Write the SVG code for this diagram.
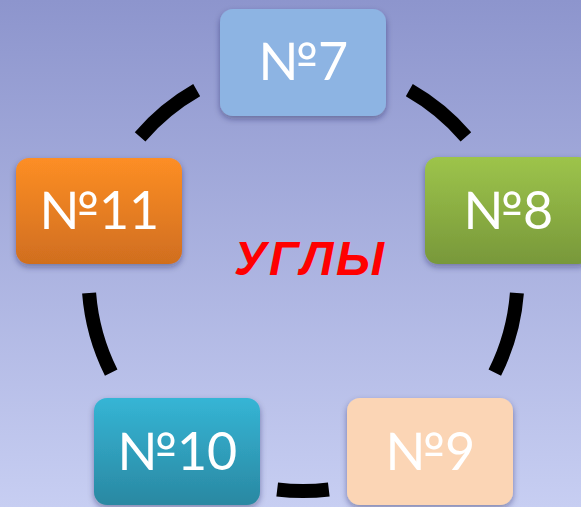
<svg xmlns="http://www.w3.org/2000/svg" width="581" height="507" viewBox="0 0 581 507">
  <defs>
    <linearGradient id="bg" x1="0" y1="0" x2="0" y2="1">
      <stop offset="0" stop-color="#8d95cd"/>
      <stop offset="1" stop-color="#c7cef2"/>
    </linearGradient>
    <linearGradient id="gGreen" x1="0" y1="0" x2="0" y2="1">
      <stop offset="0" stop-color="#9dc44b"/>
      <stop offset="1" stop-color="#78983a"/>
    </linearGradient>
    <linearGradient id="gOrange" x1="0" y1="0" x2="0" y2="1">
      <stop offset="0" stop-color="#fd8e25"/>
      <stop offset="1" stop-color="#d06e1f"/>
    </linearGradient>
    <linearGradient id="gTeal" x1="0" y1="0" x2="0" y2="1">
      <stop offset="0" stop-color="#35b5d5"/>
      <stop offset="1" stop-color="#2a88a2"/>
    </linearGradient>
    <filter id="shadow" x="-20%" y="-20%" width="140%" height="150%">
      <feDropShadow dx="0" dy="3" stdDeviation="3" flood-color="#1a1f4a" flood-opacity="0.4"/>
    </filter>
    <style>
      .box { filter: url(#shadow); }
      .label { font-family: Lato, "Noto Sans", "DejaVu Sans", sans-serif; font-size: 52px; fill: #ffffff; text-anchor: middle; }
      .ring { fill: none; stroke: #000000; stroke-width: 14; stroke-linecap: butt; }
      .title { font-family: "Liberation Sans", Arial, sans-serif; font-weight: bold; font-style: italic; font-size: 48px; fill: #ff0000; }
    </style>
  </defs>

  <rect width="581" height="507" fill="url(#bg)"/>

  <!-- ring segments between the boxes (circle centre 303,276.5, r 214.5) -->
  <g id="connectors">
    <path class="ring" d="M140.1,136.9 A214.5,214.5 0 0 1 196.7,90.2"/>
    <path class="ring" d="M409.3,90.2 A214.5,214.5 0 0 1 465.9,136.9"/>
    <path class="ring" d="M516.9,293 A214.5,214.5 0 0 1 494.8,372.6"/>
    <path class="ring" d="M328.8,489.5 A214.5,214.5 0 0 1 277.2,489.5"/>
    <path class="ring" d="M111.2,372.6 A214.5,214.5 0 0 1 89.1,293"/>
  </g>

  <g id="n7">
    <rect class="box" x="220" y="9" width="166" height="107" rx="13" fill="#8db4e3"/>
    <text class="label" x="303" y="80">№7</text>
  </g>
  <g id="n8">
    <rect class="box" x="425" y="157" width="166" height="107" rx="13" fill="url(#gGreen)"/>
    <text class="label" x="508" y="229">№8</text>
  </g>
  <g id="n9">
    <rect class="box" x="347" y="398" width="166" height="107" rx="13" fill="#fbd5b5"/>
    <text class="label" x="430" y="470">№9</text>
  </g>
  <g id="n10">
    <rect class="box" x="94" y="398" width="166" height="107" rx="13" fill="url(#gTeal)"/>
    <text class="label" x="177" y="470">№10</text>
  </g>
  <g id="n11">
    <rect class="box" x="16" y="158" width="166" height="106" rx="13" fill="url(#gOrange)"/>
    <text class="label" x="99" y="229">№11</text>
  </g>

  <g id="center">
    <text class="title" x="234" y="275" textLength="150" lengthAdjust="spacing">УГЛЫ</text>
  </g>
</svg>
